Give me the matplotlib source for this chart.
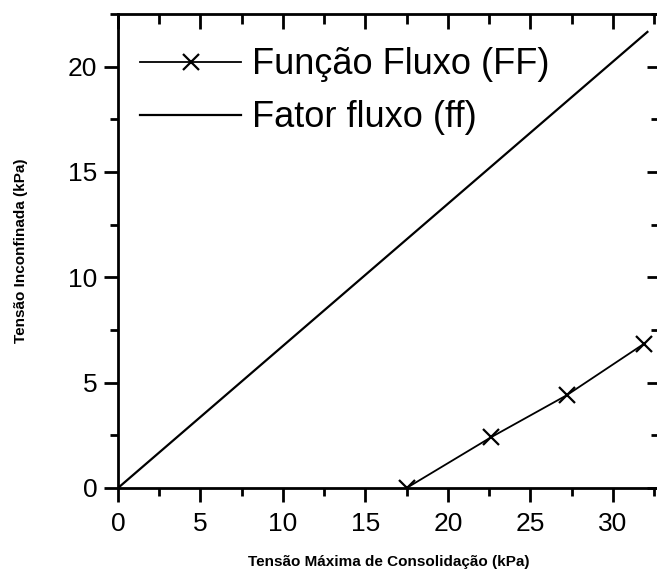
import matplotlib
matplotlib.use('Agg')
import matplotlib.pyplot as plt
from matplotlib.ticker import MultipleLocator

plt.rcParams['font.family'] = ['Liberation Sans', 'DejaVu Sans']

# Função Fluxo (FF)
ff_x = [17.5, 22.6, 27.2, 31.9]
ff_y = [0.0, 2.4, 4.4, 6.85]

# Fator fluxo (ff) - reta
fat_x = [0.0, 32.1]
fat_y = [0.0, 21.65]

fig = plt.figure(figsize=(6.57, 5.76), dpi=100)
ax = fig.add_axes([0.1796, 0.1528, 0.8234, 0.8229])

ax.plot(ff_x, ff_y, color='black', lw=1.3, marker='x', ms=11, mew=1.6,
        label='Função Fluxo (FF)')
ax.plot(fat_x, fat_y, color='black', lw=1.6, label='Fator fluxo (ff)')

ax.set_xlim(0, 32.8)
ax.set_ylim(0, 22.5)
ax.xaxis.set_major_locator(MultipleLocator(5))
ax.xaxis.set_minor_locator(MultipleLocator(2.5))
ax.yaxis.set_major_locator(MultipleLocator(5))
ax.yaxis.set_minor_locator(MultipleLocator(2.5))

for s in ax.spines.values():
    s.set_linewidth(2)

ax.tick_params(which='both', direction='out', width=2, labelsize=19,
               top=False, right=False)
ax.tick_params(which='major', length=10, pad=5)
ax.tick_params(axis='x', which='major', pad=7)
ax.tick_params(which='minor', length=6)

# ticks internos no topo e à direita
sec_x = ax.secondary_xaxis('top')
sec_x.xaxis.set_major_locator(MultipleLocator(5))
sec_x.xaxis.set_minor_locator(MultipleLocator(2.5))
sec_x.tick_params(which='both', direction='in', width=2, labeltop=False)
sec_x.tick_params(which='major', length=11)
sec_x.tick_params(which='minor', length=7)
sec_y = ax.secondary_yaxis('right')
sec_y.yaxis.set_major_locator(MultipleLocator(5))
sec_y.yaxis.set_minor_locator(MultipleLocator(2.5))
sec_y.tick_params(which='both', direction='in', width=2, labelright=False)
sec_y.tick_params(which='major', length=9)
sec_y.tick_params(which='minor', length=6)

ax.set_xlabel('Tensão Máxima de Consolidação (kPa)', fontsize=11,
              fontweight='bold')
ax.set_ylabel('Tensão Inconfinada (kPa)', fontsize=11, fontweight='bold')
ax.xaxis.set_label_coords(0.5, -0.142)
ax.yaxis.set_label_coords(-0.166, 0.5)

ax.legend(loc='upper left', bbox_to_anchor=(0.041, 0.93), frameon=False,
          fontsize=26, handlelength=2.8, handletextpad=0.3,
          labelspacing=0.5, borderaxespad=0, borderpad=0)

fig.savefig('out.png', dpi=100)
